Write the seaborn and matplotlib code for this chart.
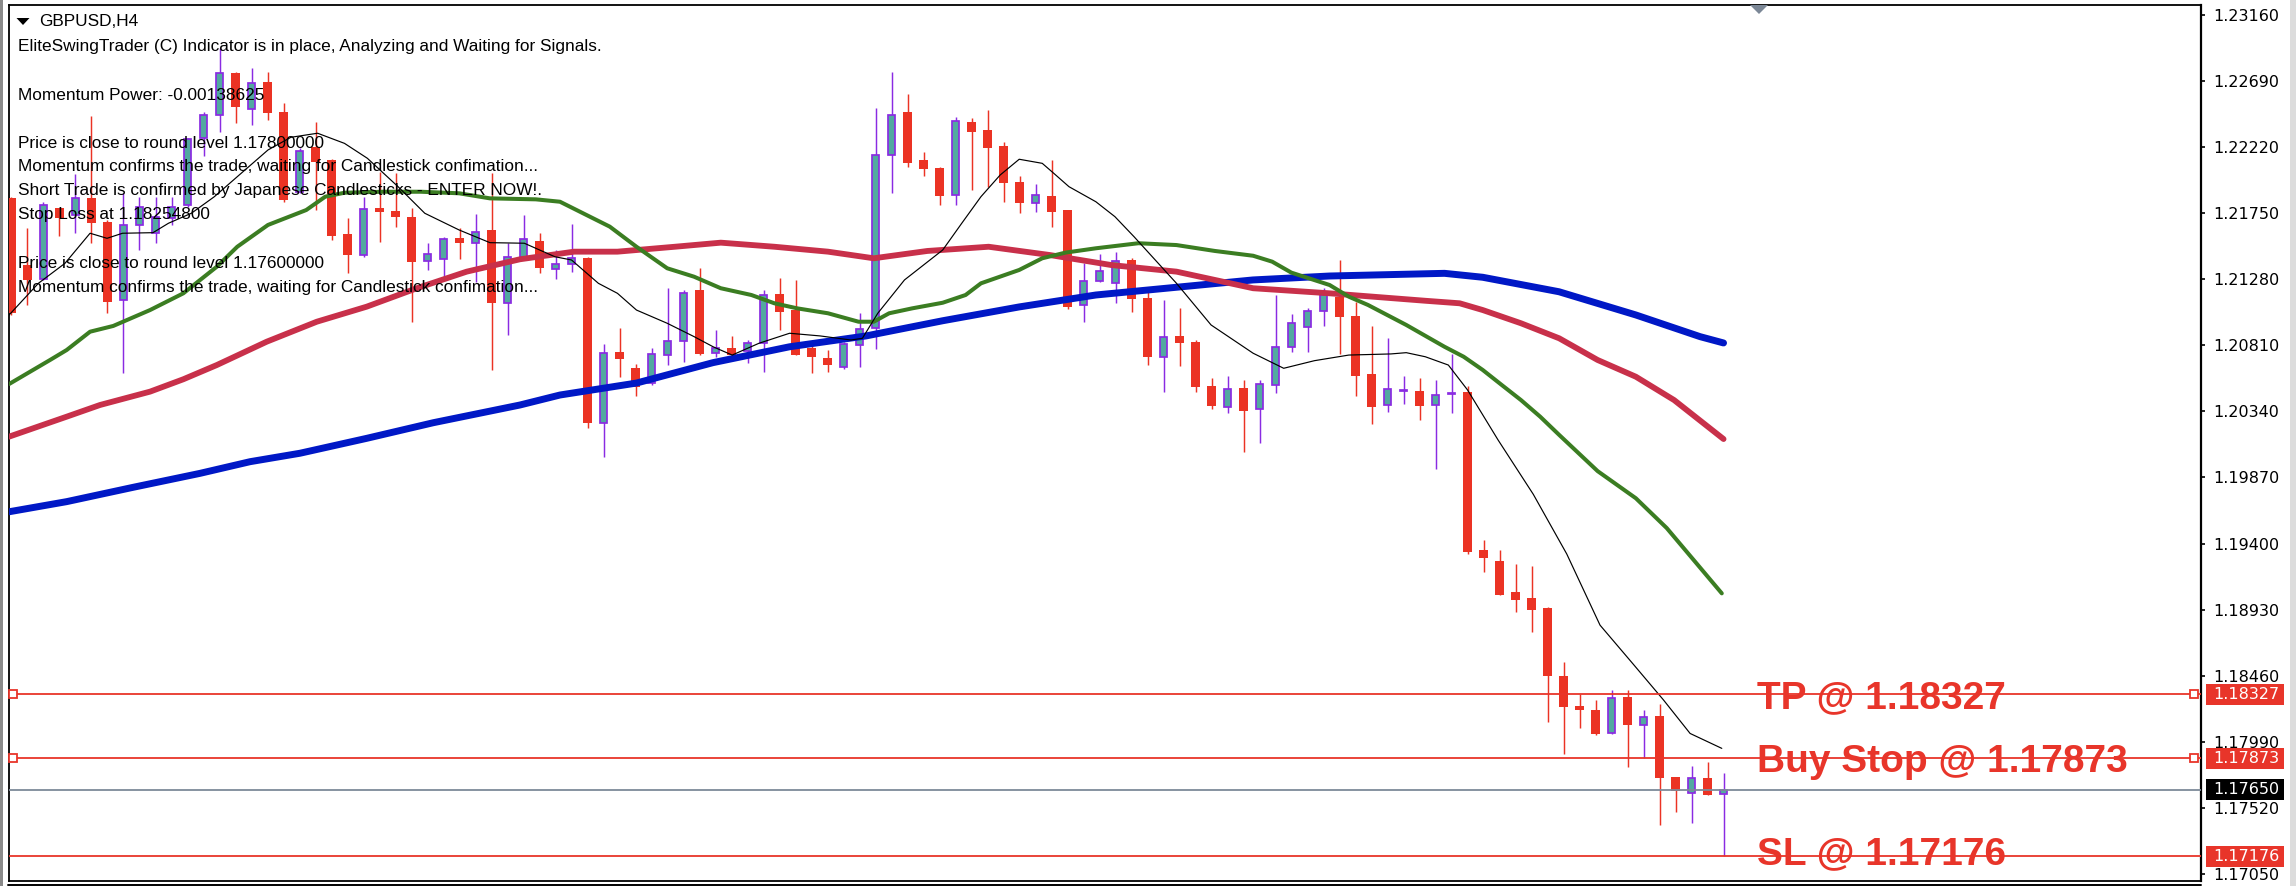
import matplotlib
matplotlib.use("Agg")
import matplotlib.pyplot as plt
import matplotlib.transforms as mtransforms
from matplotlib.patches import Rectangle, Polygon
from matplotlib.lines import Line2D
import numpy as np
import pandas as pd
import seaborn as sns

# ---------------- data ----------------
bar_open = [1.21854, 1.21380, 1.21278, 1.21783, 1.21736, 1.21854, 1.21688, 1.21132, 1.21665, 1.21606,
            1.21712, 1.21807, 1.22281, 1.22447, 1.22748, 1.22487, 1.22679, 1.22466, 1.21902, 1.22222,
            1.22127, 1.21601, 1.21451, 1.21783, 1.21767, 1.21724, 1.21411, 1.21421, 1.21570, 1.21539,
            1.21629, 1.21108, 1.21440, 1.21553, 1.21350, 1.21385, 1.21428, 1.20259, 1.20759, 1.20646,
            1.20539, 1.20740, 1.20842, 1.21203, 1.20752, 1.20788, 1.20769, 1.20823, 1.21172, 1.21061,
            1.20788, 1.20717, 1.20658, 1.20812, 1.20930, 1.22162, 1.22466, 1.22127, 1.22068, 1.21878,
            1.22399, 1.22340, 1.22226, 1.21968, 1.21824, 1.21871, 1.21771, 1.21096, 1.21269, 1.21250,
            1.21416, 1.21143, 1.20728, 1.20875, 1.20830, 1.20520, 1.20373, 1.20503, 1.20356, 1.20527,
            1.20799, 1.20941, 1.21055, 1.21155, 1.21017, 1.20602, 1.20384, 1.20484, 1.20486, 1.20384,
            1.20465, 1.20480, 1.19356, 1.19279, 1.19059, 1.19013, 1.18944, 1.18455, 1.18248, 1.18216,
            1.18054, 1.18309, 1.18110, 1.18174, 1.17743, 1.17624, 1.17730, 1.17619]
bar_high = [1.21866, 1.21641, 1.21831, 1.21783, 1.22027, 1.22440, 1.21700, 1.21890, 1.21866, 1.21866,
            1.21866, 1.22281, 1.22471, 1.22920, 1.22753, 1.22779, 1.22750, 1.22530, 1.22210, 1.22399,
            1.22132, 1.21712, 1.21866, 1.22044, 1.22032, 1.21783, 1.21539, 1.21582, 1.21641, 1.21743,
            1.22032, 1.21534, 1.21736, 1.21610, 1.21487, 1.21672, 1.21440, 1.20819, 1.20930, 1.20676,
            1.20788, 1.21214, 1.21203, 1.21357, 1.20918, 1.20876, 1.20847, 1.21203, 1.21286, 1.21274,
            1.20823, 1.20776, 1.20835, 1.21037, 1.22494, 1.22750, 1.22596, 1.22181, 1.22080, 1.22435,
            1.22423, 1.22482, 1.22257, 1.22013, 1.21956, 1.22127, 1.21771, 1.21392, 1.21459, 1.21475,
            1.21428, 1.21214, 1.21131, 1.21072, 1.20847, 1.20574, 1.20591, 1.20562, 1.20562, 1.21167,
            1.21029, 1.21072, 1.21214, 1.21415, 1.21119, 1.20946, 1.20863, 1.20591, 1.20574, 1.20562,
            1.20747, 1.20520, 1.19425, 1.19356, 1.19258, 1.19239, 1.18952, 1.18559, 1.18333, 1.18288,
            1.18360, 1.18360, 1.18216, 1.18262, 1.17743, 1.17818, 1.17850, 1.17770]
bar_low = [1.21025, 1.21096, 1.21274, 1.21589, 1.21606, 1.21534, 1.21037, 1.20610, 1.21487, 1.21534,
           1.21665, 1.21795, 1.22155, 1.22328, 1.22388, 1.22376, 1.22411, 1.21831, 1.21890, 1.21771,
           1.21558, 1.21321, 1.21435, 1.21546, 1.21653, 1.20977, 1.21345, 1.21286, 1.21421, 1.21262,
           1.20634, 1.20883, 1.21428, 1.21321, 1.21278, 1.21333, 1.20219, 1.20013, 1.20582, 1.20451,
           1.20527, 1.20669, 1.20693, 1.20740, 1.20729, 1.20717, 1.20681, 1.20622, 1.20918, 1.20740,
           1.20610, 1.20622, 1.20639, 1.20653, 1.20781, 1.21890, 1.22075, 1.22016, 1.21807, 1.21807,
           1.21914, 1.21937, 1.21831, 1.21748, 1.21760, 1.21648, 1.21065, 1.20977, 1.21262, 1.21108,
           1.21049, 1.20669, 1.20479, 1.20664, 1.20479, 1.20354, 1.20325, 1.20053, 1.20112, 1.20467,
           1.20764, 1.20764, 1.20946, 1.20747, 1.20448, 1.20249, 1.20337, 1.20392, 1.20278, 1.19927,
           1.20325, 1.19324, 1.19197, 1.19032, 1.18912, 1.18772, 1.18134, 1.17903, 1.18089, 1.18036,
           1.18049, 1.17810, 1.17876, 1.17398, 1.17491, 1.17411, 1.17611, 1.17176]
bar_close = [1.21037, 1.21274, 1.21807, 1.21712, 1.21854, 1.21677, 1.21120, 1.21665, 1.21795, 1.21724,
             1.21795, 1.22274, 1.22447, 1.22748, 1.22501, 1.22677, 1.22459, 1.21843, 1.22193, 1.22115,
             1.21587, 1.21451, 1.21779, 1.21760, 1.21719, 1.21404, 1.21456, 1.21565, 1.21534, 1.21617,
             1.21108, 1.21435, 1.21565, 1.21357, 1.21385, 1.21428, 1.20255, 1.20757, 1.20710, 1.20511,
             1.20745, 1.20842, 1.21184, 1.20747, 1.20788, 1.20740, 1.20828, 1.21167, 1.21049, 1.20740,
             1.20724, 1.20669, 1.20819, 1.20925, 1.22162, 1.22447, 1.22103, 1.22061, 1.21873, 1.22407,
             1.22328, 1.22215, 1.21961, 1.21819, 1.21878, 1.21760, 1.21084, 1.21269, 1.21340, 1.21411,
             1.21136, 1.20724, 1.20870, 1.20823, 1.20510, 1.20380, 1.20498, 1.20342, 1.20531, 1.20799,
             1.20970, 1.21053, 1.21167, 1.21008, 1.20593, 1.20368, 1.20498, 1.20489, 1.20380, 1.20456,
             1.20470, 1.19338, 1.19298, 1.19037, 1.19000, 1.18931, 1.18461, 1.18235, 1.18216, 1.18049,
             1.18301, 1.18107, 1.18168, 1.17735, 1.17642, 1.17730, 1.17611, 1.17650]

# moving averages: (bar position, price)
blue_ma_bar = [-0.15, 3.45, 7.61, 11.78, 14.91, 18.03, 22.2, 26.36, 31.78, 34.28, 39.06, 43.84, 48.63,
               53.41, 58.2, 62.97, 67.77, 72.81, 77.59, 82.38, 89.56, 91.95, 96.72, 101.52, 105.53, 107.0]
blue_ma = [1.19626, 1.19698, 1.19800, 1.19899, 1.19982, 1.20042, 1.20148, 1.20259, 1.20385, 1.20456,
           1.20541, 1.20686, 1.20799, 1.20876, 1.20984, 1.21082, 1.21167, 1.21222, 1.21274, 1.21302,
           1.21321, 1.21293, 1.21190, 1.21025, 1.20871, 1.20826]

red_ma_bar = [-0.15, 3.45, 5.53, 8.66, 10.74, 12.83, 15.95, 19.08, 22.2, 25.33, 28.45, 31.78, 35.16,
              37.87, 41.46, 44.33, 47.68, 51.03, 53.89, 57.24, 61.07, 64.9, 68.73, 72.81, 77.6, 82.38,
              88.36, 90.51, 91.95, 94.34, 96.73, 99.13, 101.52, 103.91, 107.0]
red_ma = [1.20160, 1.20302, 1.20385, 1.20480, 1.20568, 1.20669, 1.20835, 1.20977, 1.21084, 1.21215,
          1.21333, 1.21421, 1.21475, 1.21475, 1.21510, 1.21539, 1.21510, 1.21475, 1.21428, 1.21480,
          1.21510, 1.21451, 1.21380, 1.21333, 1.21215, 1.21179, 1.21126, 1.21108, 1.21060, 1.20966,
          1.20859, 1.20705, 1.20586, 1.20420, 1.20143]

green_ma_bar = [-0.15, 2.41, 3.45, 4.91, 6.36, 8.66, 10.74, 12.83, 14.11, 16.03, 18.42, 19.61, 20.81,
                23.2, 25.59, 27.98, 29.9, 32.77, 34.28, 35.72, 37.39, 39.06, 40.98, 42.66, 44.33, 46.24,
                47.68, 49.11, 51.03, 52.94, 53.89, 54.85, 56.29, 58.2, 59.63, 60.59, 62.98, 64.42, 65.86,
                67.77, 70.43, 72.81, 75.21, 77.6, 78.79, 79.99, 82.38, 83.58, 84.78, 87.17, 89.56, 90.76,
                91.95, 93.14, 94.34, 95.54, 96.73, 99.13, 101.52, 103.45, 106.89]
green_ma = [1.20534, 1.20705, 1.20776, 1.20906, 1.20947, 1.21060, 1.21179, 1.21368, 1.21510, 1.21665,
            1.21771, 1.21866, 1.21894, 1.21901, 1.21901, 1.21890, 1.21854, 1.21847, 1.21830, 1.21748,
            1.21653, 1.21510, 1.21357, 1.21297, 1.21215, 1.21167, 1.21108, 1.21072, 1.21037, 1.20977,
            1.20977, 1.21037, 1.21072, 1.21112, 1.21167, 1.21250, 1.21345, 1.21428, 1.21468, 1.21499,
            1.21535, 1.21522, 1.21480, 1.21446, 1.21404, 1.21326, 1.21238, 1.21155, 1.21096, 1.20954,
            1.20799, 1.20728, 1.20634, 1.20527, 1.20420, 1.20302, 1.20172, 1.19915, 1.19722, 1.19510,
            1.19046]

black_ma_bar = [-0.15, 1.68, 3.34, 4.91, 5.97, 6.94, 8.84, 9.81, 11.24, 12.68, 14.11, 16.03, 17.46,
                19.13, 20.81, 22.24, 24.16, 25.83, 27.98, 29.9, 32.05, 33.96, 35.0, 36.68, 37.87, 39.06,
                40.98, 42.66, 43.85, 45.04, 46.72, 48.63, 50.54, 52.46, 53.18, 54.14, 55.81, 58.2, 59.39,
                60.59, 61.79, 62.98, 64.42, 65.14, 66.09, 67.77, 68.96, 70.16, 72.81, 74.97, 77.6, 79.51,
                81.43, 83.58, 86.21, 87.17, 88.36, 89.8, 91.0, 92.91, 95.11, 97.2, 99.28, 101.36, 103.24,
                104.91, 106.89]
black_ma = [1.21025, 1.21250, 1.21392, 1.21606, 1.21570, 1.21606, 1.21610, 1.21677, 1.21748, 1.21866,
            1.22008, 1.22198, 1.22288, 1.22317, 1.22245, 1.22139, 1.21937, 1.21748, 1.21629, 1.21539,
            1.21535, 1.21439, 1.21416, 1.21250, 1.21179, 1.21060, 1.20966, 1.20871, 1.20799, 1.20740,
            1.20824, 1.20895, 1.20876, 1.20847, 1.20859, 1.21037, 1.21274, 1.21487, 1.21677, 1.21866,
            1.22020, 1.22132, 1.22103, 1.22032, 1.21937, 1.21830, 1.21724, 1.21581, 1.21250, 1.20954,
            1.20753, 1.20646, 1.20700, 1.20740, 1.20748, 1.20757, 1.20728, 1.20669, 1.20492, 1.20136,
            1.19750, 1.19326, 1.18820, 1.18542, 1.18289, 1.18050, 1.17944]

tick_prices = [1.23160, 1.22690, 1.22220, 1.21750, 1.21280, 1.20810, 1.20340, 1.19870, 1.19400,
               1.18930, 1.18460, 1.17990, 1.17520, 1.17050]

tp_price = 1.18327
buy_stop_price = 1.17873
sl_price = 1.17176
current_price = 1.17650

level_labels = ["TP @ 1.18327", "Buy Stop @ 1.17873", "SL @ 1.17176"]

info_lines = [
    "EliteSwingTrader (C) Indicator is in place, Analyzing and Waiting for Signals.",
    "Momentum Power: -0.00138625",
    "Price is close to round level 1.17800000",
    "Momentum confirms the trade, waiting for Candlestick confimation...",
    "Short Trade is confirmed by Japanese Candlesticks - ENTER NOW!.",
    "Stop Loss at 1.18254800",
    "Price is close to round level 1.17600000",
    "Momentum confirms the trade, waiting for Candlestick confimation...",
]
chart_title = "GBPUSD,H4"

# ---------------- style ----------------
sns.set_theme(style="white")
plt.rcParams['font.family'] = ['DejaVu Sans']

RED = '#e8352a'
CANDLE_RED = '#eb3324'
TEAL = '#52a9a0'
PURPLE = '#8a2be2'
GREEN = '#3b7d22'
CRIMSON = '#c8304a'
BLUE = '#0018c6'
GRAY_LINE = '#7d8a99'

W, H = 2296, 886
fig = plt.figure(figsize=(W / 100, H / 100), dpi=100, facecolor='white')
ax = fig.add_axes([9 / W, 5 / H, 2192 / W, 876.3 / H])
ax.set_facecolor('white')

df = pd.DataFrame({'open': bar_open, 'high': bar_high, 'low': bar_low, 'close': bar_close})
df['bar'] = np.arange(len(df))
df['bull'] = df['close'] >= df['open']

# wicks
ax.vlines(df['bar'], df['low'], df['high'],
          colors=np.where(df['bull'], PURPLE, CANDLE_RED), linewidth=1.05, zorder=2)
bear = df[~df['bull']]
bull = df[df['bull']]
ax.bar(bear['bar'], bear['open'] - bear['close'], bottom=bear['close'], width=0.56,
       color=CANDLE_RED, linewidth=0, zorder=3)
ax.bar(bull['bar'], np.maximum(bull['close'] - bull['open'], 0.00003), bottom=bull['open'],
       width=0.48, color=TEAL, edgecolor=PURPLE, linewidth=1.25, zorder=3)

# moving averages
sns.lineplot(x=blue_ma_bar, y=blue_ma, ax=ax, color=BLUE, linewidth=5.0, sort=False,
             estimator=None, legend=False, zorder=4)
sns.lineplot(x=red_ma_bar, y=red_ma, ax=ax, color=CRIMSON, linewidth=4.2, sort=False,
             estimator=None, legend=False, zorder=4)
sns.lineplot(x=green_ma_bar, y=green_ma, ax=ax, color=GREEN, linewidth=2.9, sort=False,
             estimator=None, legend=False, zorder=4)
sns.lineplot(x=black_ma_bar, y=black_ma, ax=ax, color='black', linewidth=0.85, sort=False,
             estimator=None, legend=False, zorder=4)

# horizontal levels
for p, c in [(tp_price, RED), (buy_stop_price, RED), (sl_price, RED), (current_price, GRAY_LINE)]:
    ax.axhline(p, color=c, linewidth=1.3, zorder=5)

blend = mtransforms.blended_transform_factory(ax.transAxes, ax.transData)
for p in [tp_price, buy_stop_price]:
    ax.plot([0.0016, 0.9970], [p, p], transform=blend, linestyle='none', marker='s',
            markersize=6.2, markerfacecolor='white', markeredgecolor=RED, markeredgewidth=1.3,
            clip_on=False, zorder=6)

# big level labels
for txt, p, off in zip(level_labels, [tp_price, buy_stop_price, sl_price], [-13.5, -14, -7.5]):
    tr = mtransforms.offset_copy(blend, fig=fig, x=0, y=off, units='dots')
    ax.text(0.7973, p, txt, transform=tr, ha='left', va='baseline', color=RED,
            fontsize=28, fontweight='bold', family=['Liberation Sans', 'DejaVu Sans'], zorder=7)

ax.set_xlim(-0.156, 136.84)
ax.set_ylim(1.170011, 1.232307)

# right price axis
ax.yaxis.tick_right()
ax.set_yticks(tick_prices)
ax.set_yticklabels([f"{v:.5f}" for v in tick_prices])
ax.tick_params(axis='y', which='both', direction='out', length=3.0, width=1.2, pad=5.8,
               labelsize=11.5, colors='black', right=True, left=False)
ax.set_xticks([])
for s in ['left', 'top', 'bottom']:
    ax.spines[s].set_color('black')
    ax.spines[s].set_linewidth(1.3)
ax.spines['right'].set_color('black')
ax.spines['right'].set_linewidth(1.6)
ax.grid(False)

# price boxes on the axis
box_h = 0.00150
for p, c in [(tp_price, RED), (buy_stop_price, RED), (current_price, 'black'), (sl_price, RED)]:
    ax.add_patch(Rectangle((1.0023, p - box_h / 2), 0.0356, box_h, transform=blend,
                           facecolor=c, edgecolor='none', clip_on=False, zorder=10))
    ax.text(1.00547, p, f"{p:.5f}", transform=blend, ha='left', va='center', color='white',
            fontsize=11.5, clip_on=False, zorder=11)

# frame extras
def fx(x):
    return x / W

def fy(y):
    return 1 - y / H

fig.add_artist(Line2D([fx(8), fx(2201)], [fy(885), fy(885)], color='black', linewidth=1.4))
fig.add_artist(Rectangle((0, 0), fx(2.8), 1, transform=fig.transFigure, facecolor='#8a8a8a',
                         edgecolor='none'))
fig.add_artist(Rectangle((fx(2290), 0), fx(6), 1, transform=fig.transFigure, facecolor='#dcdcdc',
                         edgecolor='none'))
# chart-shift marker
fig.add_artist(Polygon([[fx(1750), fy(5)], [fx(1768), fy(5)], [fx(1759), fy(14)]], closed=True,
                       transform=fig.transFigure, facecolor='#7b8796', edgecolor='none', zorder=20))
# title dropdown triangle
fig.add_artist(Polygon([[fx(16.5), fy(18)], [fx(29.5), fy(18)], [fx(23), fy(25)]], closed=True,
                       transform=fig.transFigure, facecolor='black', edgecolor='none', zorder=20))

txt_font = ['Liberation Sans', 'DejaVu Sans']
fig.text(fx(39.5), fy(22), chart_title, ha='left', va='center', fontsize=12.4, family=txt_font,
         color='black', zorder=20)
line_y = [47, 95.5, 143.3, 167, 191, 215, 263.3, 287.3]
for s, yy in zip(info_lines, line_y):
    fig.text(fx(17.8), fy(yy), s, ha='left', va='center', fontsize=12.4, family=txt_font,
             color='black', zorder=20)

fig.savefig('out.png', dpi=100, facecolor='white')
